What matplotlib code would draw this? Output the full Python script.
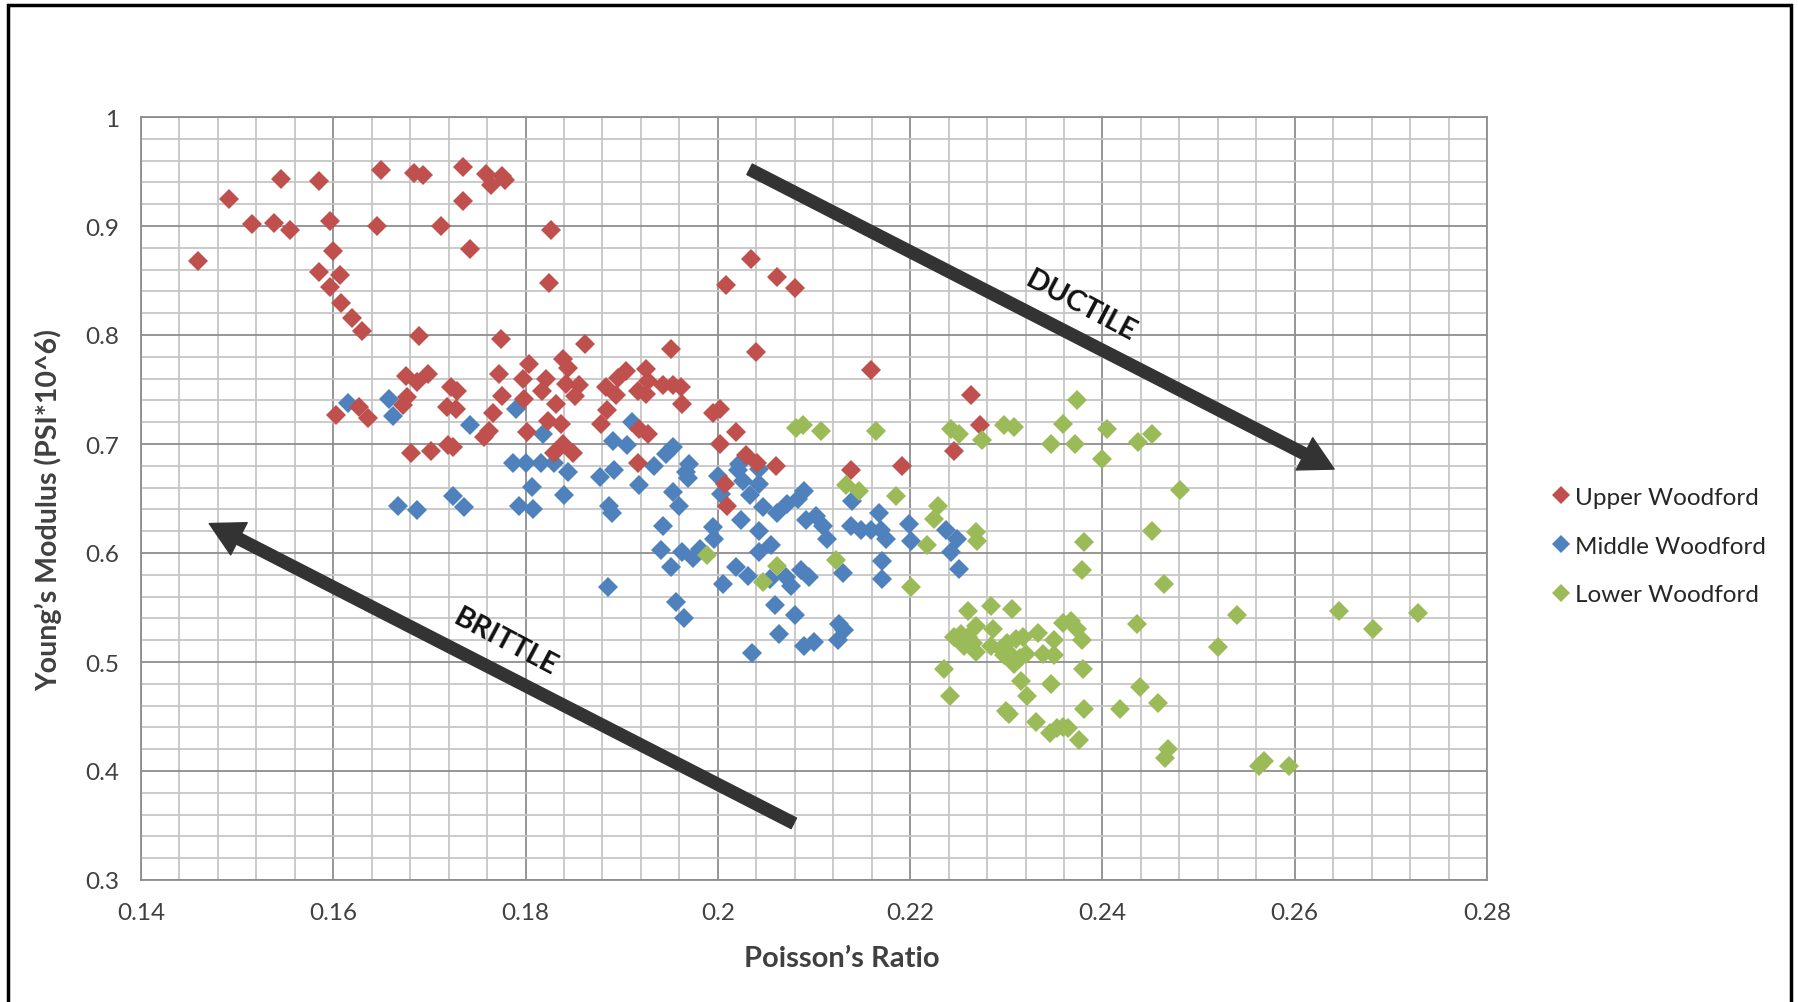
import matplotlib
matplotlib.use("Agg")
import matplotlib.pyplot as plt
from matplotlib.lines import Line2D
from matplotlib.patches import Rectangle
from matplotlib.ticker import MultipleLocator

plt.rcParams['font.family'] = ['Lato', 'DejaVu Sans']

# ---------------- data ----------------
upper_x = [0.1459, 0.1492, 0.1515, 0.1538, 0.1546, 0.1555, 0.1585, 0.1597, 0.1600, 0.1585,
           0.1607, 0.1597, 0.1608, 0.1619, 0.1630, 0.1650, 0.1645, 0.1684, 0.1693, 0.1735,
           0.1735, 0.1712, 0.1742, 0.1689, 0.1676, 0.1687, 0.1699, 0.1677, 0.1672, 0.1722,
           0.1729, 0.1718, 0.1728, 0.1603, 0.1627, 0.1636, 0.1681, 0.1702, 0.1719, 0.1724,
           0.1759, 0.1764, 0.1776, 0.1779, 0.1826, 0.1824, 0.1774, 0.1862, 0.1951, 0.2040,
           0.2008, 0.2034, 0.2062, 0.2080, 0.1804, 0.1772, 0.1797, 0.1821, 0.1817, 0.1839,
           0.1844, 0.1842, 0.1856, 0.1851, 0.1776, 0.1798, 0.1832, 0.1766, 0.1823, 0.1837,
           0.1762, 0.1757, 0.1802, 0.1839, 0.1849, 0.1830, 0.1896, 0.1904, 0.1884, 0.1894,
           0.1925, 0.1927, 0.1917, 0.1925, 0.1943, 0.1953, 0.1962, 0.1963, 0.1885, 0.1878,
           0.1918, 0.1927, 0.1917, 0.1995, 0.2002, 0.2019, 0.2002, 0.2029, 0.2041, 0.2060,
           0.2007, 0.2010, 0.2139, 0.2192, 0.2159, 0.2263, 0.2273, 0.2246]
upper_y = [0.868, 0.925, 0.902, 0.903, 0.943, 0.896, 0.941, 0.905, 0.877, 0.858,
           0.855, 0.844, 0.829, 0.816, 0.804, 0.951, 0.900, 0.949, 0.947, 0.954,
           0.923, 0.900, 0.879, 0.799, 0.762, 0.757, 0.764, 0.743, 0.736, 0.752,
           0.749, 0.734, 0.732, 0.727, 0.734, 0.724, 0.692, 0.694, 0.699, 0.697,
           0.948, 0.938, 0.946, 0.942, 0.896, 0.848, 0.796, 0.792, 0.787, 0.784,
           0.846, 0.870, 0.853, 0.843, 0.773, 0.764, 0.760, 0.760, 0.749, 0.778,
           0.770, 0.755, 0.754, 0.744, 0.744, 0.741, 0.737, 0.728, 0.721, 0.718,
           0.712, 0.706, 0.711, 0.700, 0.692, 0.692, 0.761, 0.767, 0.752, 0.745,
           0.769, 0.758, 0.749, 0.746, 0.754, 0.754, 0.752, 0.737, 0.731, 0.718,
           0.714, 0.709, 0.683, 0.728, 0.732, 0.711, 0.700, 0.690, 0.683, 0.680,
           0.663, 0.643, 0.676, 0.680, 0.768, 0.745, 0.717, 0.694]

middle_x = [0.1615, 0.1658, 0.1662, 0.1742, 0.1790, 0.1818, 0.1911, 0.1891, 0.1906, 0.1953,
            0.1946, 0.1787, 0.1800, 0.1816, 0.1830, 0.2022, 0.1970, 0.1844, 0.1807, 0.1793,
            0.1808, 0.1840, 0.1877, 0.1892, 0.1887, 0.1890, 0.1918, 0.1934, 0.1953, 0.1960,
            0.1967, 0.1969, 0.1943, 0.1941, 0.1951, 0.1963, 0.1974, 0.1981, 0.1886, 0.1956,
            0.1965, 0.2000, 0.2003, 0.1995, 0.1996, 0.2021, 0.2026, 0.2033, 0.2043, 0.2043,
            0.2047, 0.2061, 0.2072, 0.2024, 0.2043, 0.2043, 0.2055, 0.2019, 0.2031, 0.2054,
            0.2071, 0.2076, 0.2005, 0.2059, 0.2064, 0.2036, 0.2080, 0.1667, 0.1687, 0.1724,
            0.1736, 0.2090, 0.2083, 0.2092, 0.2102, 0.2109, 0.2114, 0.2140, 0.2138, 0.2149,
            0.2159, 0.2170, 0.2168, 0.2175, 0.2171, 0.2171, 0.2130, 0.2199, 0.2201, 0.2237,
            0.2249, 0.2243, 0.2251, 0.2086, 0.2095, 0.2090, 0.2100, 0.2126, 0.2131, 0.2125]
middle_y = [0.738, 0.741, 0.726, 0.717, 0.732, 0.709, 0.720, 0.703, 0.699, 0.697,
            0.691, 0.683, 0.683, 0.683, 0.683, 0.682, 0.682, 0.674, 0.661, 0.643,
            0.640, 0.653, 0.670, 0.676, 0.643, 0.637, 0.662, 0.680, 0.656, 0.643,
            0.674, 0.669, 0.625, 0.603, 0.587, 0.601, 0.595, 0.604, 0.569, 0.555,
            0.540, 0.671, 0.654, 0.624, 0.613, 0.676, 0.666, 0.653, 0.677, 0.663,
            0.642, 0.637, 0.645, 0.630, 0.620, 0.601, 0.607, 0.587, 0.579, 0.576,
            0.578, 0.570, 0.572, 0.552, 0.526, 0.508, 0.543, 0.643, 0.639, 0.652,
            0.642, 0.657, 0.650, 0.630, 0.634, 0.625, 0.613, 0.648, 0.625, 0.621,
            0.621, 0.621, 0.637, 0.613, 0.593, 0.576, 0.582, 0.627, 0.611, 0.621,
            0.613, 0.601, 0.585, 0.584, 0.578, 0.515, 0.518, 0.535, 0.529, 0.520]

lower_x = [0.1989, 0.2061, 0.2047, 0.2133, 0.2147, 0.2185, 0.2229, 0.2225, 0.2218, 0.2269,
           0.2270, 0.2123, 0.2201, 0.2381, 0.2379, 0.2260, 0.2284, 0.2306, 0.2269, 0.2286,
           0.2246, 0.2253, 0.2260, 0.2256, 0.2265, 0.2269, 0.2284, 0.2294, 0.2301, 0.2310,
           0.2317, 0.2305, 0.2314, 0.2320, 0.2308, 0.2298, 0.2333, 0.2350, 0.2338, 0.2350,
           0.2359, 0.2367, 0.2374, 0.2379, 0.2235, 0.2241, 0.2315, 0.2322, 0.2347, 0.2380,
           0.2300, 0.2303, 0.2331, 0.2345, 0.2353, 0.2359, 0.2364, 0.2376, 0.2381, 0.2418,
           0.2481, 0.2452, 0.2464, 0.2436, 0.2540, 0.2520, 0.2646, 0.2681, 0.2728, 0.2439,
           0.2458, 0.2468, 0.2465, 0.2563, 0.2568, 0.2594, 0.2081, 0.2089, 0.2107, 0.2164,
           0.2243, 0.2251, 0.2275, 0.2298, 0.2308, 0.2374, 0.2359, 0.2347, 0.2371, 0.2405,
           0.2400, 0.2437, 0.2452]
lower_y = [0.598, 0.588, 0.573, 0.662, 0.657, 0.652, 0.643, 0.631, 0.607, 0.619,
           0.611, 0.594, 0.569, 0.610, 0.584, 0.547, 0.551, 0.549, 0.533, 0.530,
           0.523, 0.526, 0.523, 0.515, 0.517, 0.509, 0.515, 0.512, 0.517, 0.521,
           0.523, 0.506, 0.504, 0.507, 0.498, 0.506, 0.527, 0.520, 0.507, 0.506,
           0.536, 0.538, 0.530, 0.520, 0.494, 0.469, 0.483, 0.469, 0.480, 0.494,
           0.455, 0.452, 0.445, 0.435, 0.439, 0.440, 0.439, 0.428, 0.457, 0.457,
           0.658, 0.620, 0.572, 0.535, 0.543, 0.514, 0.547, 0.530, 0.545, 0.477,
           0.462, 0.420, 0.412, 0.405, 0.409, 0.405, 0.715, 0.717, 0.712, 0.712,
           0.714, 0.709, 0.704, 0.717, 0.716, 0.740, 0.718, 0.700, 0.700, 0.714,
           0.686, 0.702, 0.709]

series_names = ["Upper Woodford", "Middle Woodford", "Lower Woodford"]
series_colors = ["#C0504D", "#4F81BD", "#9BBB59"]

x_ticks = [0.14, 0.16, 0.18, 0.2, 0.22, 0.24, 0.26, 0.28]
x_tick_labels = ["0.14", "0.16", "0.18", "0.2", "0.22", "0.24", "0.26", "0.28"]
y_ticks = [0.3, 0.4, 0.5, 0.6, 0.7, 0.8, 0.9, 1.0]
y_tick_labels = ["0.3", "0.4", "0.5", "0.6", "0.7", "0.8", "0.9", "1"]

ductile_start, ductile_end = (0.2033, 0.952), (0.2641, 0.677)
brittle_start, brittle_end = (0.2079, 0.352), (0.1471, 0.627)

# ---------------- figure ----------------
W, H = 1798, 1003
fig = plt.figure(figsize=(W / 100, H / 100), dpi=100)
ax = fig.add_axes([141 / W, 1 - 881 / H, (1487 - 141) / W, (881 - 118) / H])

ax.set_xlim(0.14, 0.28)
ax.set_ylim(0.3, 1.0)
ax.set_xticks(x_ticks)
ax.set_xticklabels(x_tick_labels)
ax.set_yticks(y_ticks)
ax.set_yticklabels(y_tick_labels)
ax.xaxis.set_minor_locator(MultipleLocator(0.004))
ax.yaxis.set_minor_locator(MultipleLocator(0.02))
ax.grid(which='minor', color='#c6c6c6', linewidth=1.3, zorder=0)
ax.grid(which='major', color='#8e8e8e', linewidth=1.3, zorder=0)
ax.set_axisbelow(True)
ax.tick_params(which='both', length=0)
ax.tick_params(axis='both', which='major', labelsize=17.5, colors='#404040', pad=16)
for s in ax.spines.values():
    s.set_color('#8e8e8e')
    s.set_linewidth(1.3)

ms = 10.5
ax.plot(middle_x, middle_y, linestyle='none', marker='D', markersize=ms,
        color=series_colors[1], markeredgewidth=0, zorder=3)
ax.plot(upper_x, upper_y, linestyle='none', marker='D', markersize=ms,
        color=series_colors[0], markeredgewidth=0, zorder=4)
ax.plot(lower_x, lower_y, linestyle='none', marker='D', markersize=ms,
        color=series_colors[2], markeredgewidth=0, zorder=5)

arrow_style = 'simple,head_width=2.6,head_length=2.4,tail_width=0.85'
for start, end in [(ductile_start, ductile_end), (brittle_start, brittle_end)]:
    ax.annotate('', xy=end, xytext=start,
                arrowprops=dict(arrowstyle=arrow_style, color='#333333',
                                mutation_scale=10, shrinkA=0, shrinkB=0),
                zorder=6)

ax.text(0.2378, 0.8275, "DUCTILE", rotation=-28, ha='center', va='center',
        fontsize=21, fontweight='bold', color='#111111', rotation_mode='anchor', zorder=7)
ax.text(0.1779, 0.519, "BRITTLE", rotation=-28, ha='center', va='center',
        fontsize=21, fontweight='bold', color='#111111', rotation_mode='anchor', zorder=7)

# axis titles
fig.text(842 / W, 1 - 959 / H, "Poisson\u2019s Ratio", ha='center', va='center',
         fontsize=21, fontweight='bold', color='#404040')
fig.text(48 / W, 1 - 510 / H, "Young\u2019s Modulus (PSI*10^6)", ha='center', va='center',
         rotation=90, fontsize=20.5, fontweight='bold', color='#404040')

# legend
handles = [Line2D([], [], linestyle='none', marker='D', markersize=9,
                  color=c, markeredgewidth=0) for c in series_colors]
fig.legend(handles, series_names, loc='center left',
           bbox_to_anchor=(1532 / W, 1 - 547 / H), frameon=False,
           fontsize=17.5, handlelength=0.6, handletextpad=0.25,
           labelspacing=1.15, labelcolor='#262626')

# outer frame
fig.patches.append(Rectangle((8 / W, -0.05), (1791 - 8) / W, 1.05 - 6 / H,
                             transform=fig.transFigure, fill=False,
                             edgecolor='black', linewidth=2.5))

fig.savefig("out.png", dpi=100)
